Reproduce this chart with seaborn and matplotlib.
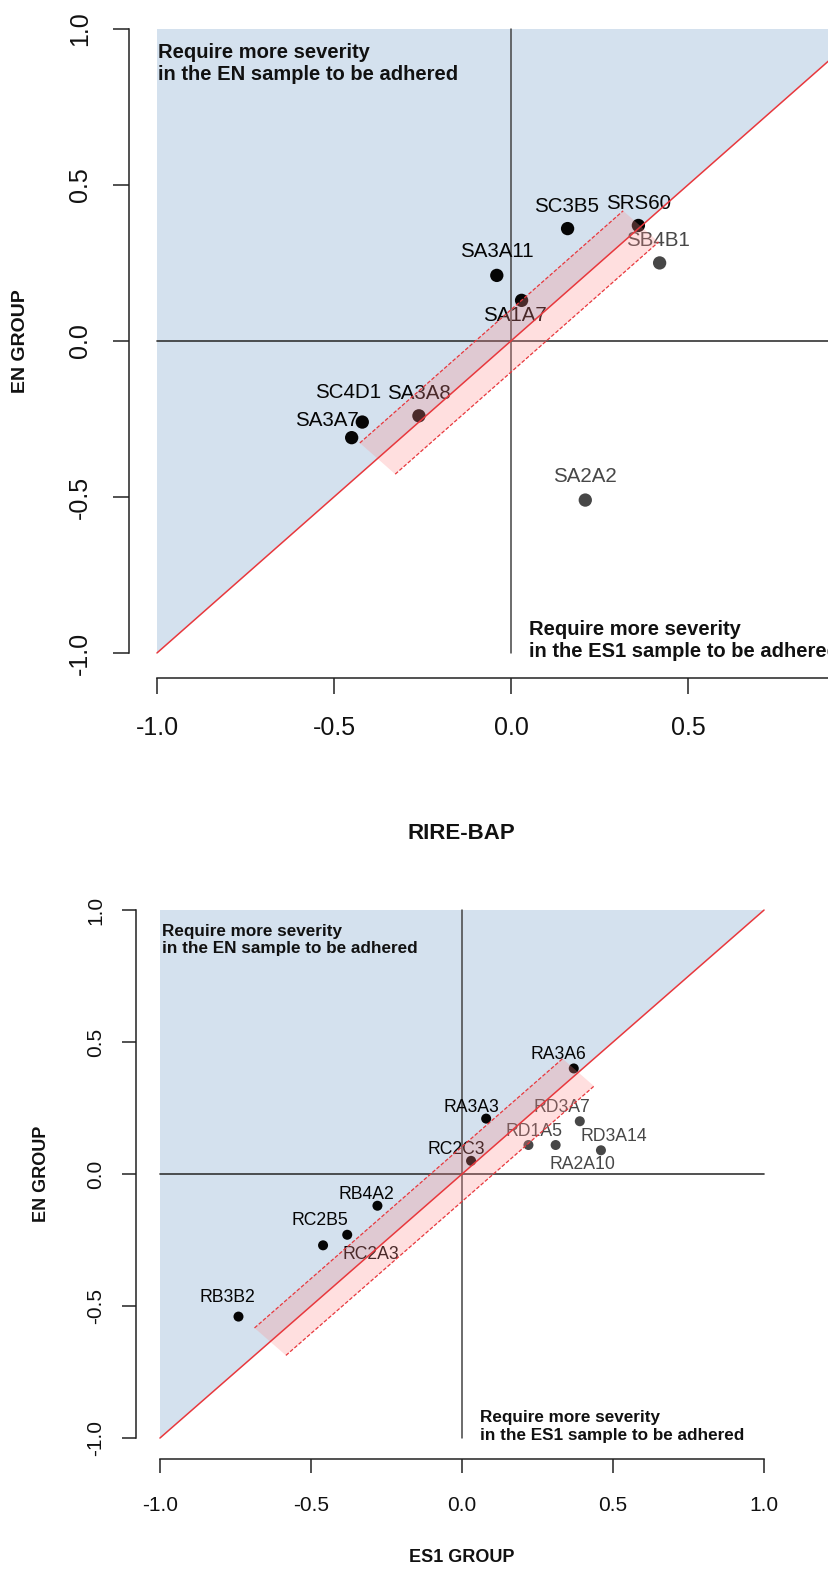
import pandas as pd
import seaborn as sns
import matplotlib.pyplot as plt
from matplotlib.patches import Polygon

# ---- top panel data (RIRE-BAP) ----
top_labels = ['SC3B5', 'SRS60', 'SB4B1', 'SA3A11', 'SA1A7', 'SC4D1', 'SA3A8', 'SA3A7', 'SA2A2']
top_x = [0.16, 0.36, 0.42, -0.04, 0.03, -0.42, -0.26, -0.45, 0.21]
top_y = [0.36, 0.37, 0.25, 0.21, 0.13, -0.26, -0.24, -0.31, -0.51]
top_group = ['dark', 'dark', 'grey', 'dark', 'dark', 'dark', 'dark', 'dark', 'grey']

# ---- bottom panel data (ES1 GROUP) ----
bot_labels = ['RA3A6', 'RA3A3', 'RC2C3', 'RD3A7', 'RD1A5', 'RA2A10', 'RD3A14',
              'RB4A2', 'RC2A3', 'RC2B5', 'RB3B2']
bot_x = [0.37, 0.08, 0.03, 0.39, 0.22, 0.31, 0.46, -0.28, -0.38, -0.46, -0.74]
bot_y = [0.40, 0.21, 0.05, 0.20, 0.11, 0.11, 0.09, -0.12, -0.23, -0.27, -0.54]
bot_group = ['dark', 'dark', 'dark', 'grey', 'grey', 'grey', 'grey',
             'dark', 'dark', 'dark', 'dark']

# agreement band along the diagonal: start/end on the diagonal and half width
top_band = (-0.377, 0.367, 0.05)
bot_band = (-0.635, 0.385, 0.052)

ticks = [-1.0, -0.5, 0.0, 0.5, 1.0]
top_xticks = [-1.0, -0.5, 0.0, 0.5]   # 1.0 falls outside the cropped figure

# label offsets in points (placement only)
top_offsets = [(-1, 16), (0, 16), (-1, 16), (0, 17), (-5, -11), (-10, 21),
               (0, 16), (-18, 12), (0, 17)]
bot_offsets = [(-11, 10), (-11, 8), (-11, 8), (-13, 10), (4, 10), (19, -14),
               (9, 10), (-8, 8), (17, -14), (-2, 18), (-8, 14)]

sns.set_style("white")
plt.rcParams['font.family'] = ['Liberation Sans', 'DejaVu Sans']
plt.rcParams['axes.unicode_minus'] = False

BLUE = '#d4e1ee'
RED = '#e8383d'
INK = '#111111'
palette = {'dark': '#050505', 'grey': '#474747'}


def draw_panel(ax, labels, xs, ys, groups, offsets, band, xticks, s, lab_fs,
               note_fs, tick_fs, xlab, xlab_fs, ylab_fs, note_pos, tick_len,
               xpad, ypad, xlab_xy, ylab_xy):
    df = pd.DataFrame({'x': xs, 'y': ys, 'group': groups, 'label': labels})

    # region where EN requires more severity
    ax.add_patch(Polygon([(-1, -1), (-1, 1), (1, 1)], closed=True,
                         facecolor=BLUE, edgecolor='none', zorder=0))
    ax.plot([-1, 1], [0, 0], color='#333333', lw=1.2, zorder=1)
    ax.plot([0, 0], [-1, 1], color='#444444', lw=1.1, zorder=1)

    sns.scatterplot(data=df, x='x', y='y', hue='group', palette=palette,
                    s=s, edgecolor='none', legend=False, ax=ax, zorder=3)
    for (_, r), off in zip(df.iterrows(), offsets):
        ax.annotate(r['label'], (r['x'], r['y']), xytext=off,
                    textcoords='offset points', ha='center', va='center',
                    fontsize=lab_fs, color=palette[r['group']], zorder=4)

    # translucent band around y = x
    c0, c1, h = band
    ax.add_patch(Polygon([(c0 - h, c0 + h), (c1 - h, c1 + h),
                          (c1 + h, c1 - h), (c0 + h, c0 - h)], closed=True,
                         facecolor=(1, 0.55, 0.55), alpha=0.28,
                         edgecolor='none', zorder=5))
    ax.plot([c0 - h, c1 - h], [c0 + h, c1 + h], color=RED, lw=0.9,
            ls=(0, (3, 1.5)), zorder=6)
    ax.plot([c0 + h, c1 + h], [c0 - h, c1 - h], color=RED, lw=0.9,
            ls=(0, (3, 1.5)), zorder=6)
    ax.plot([-1, 1], [-1, 1], color=RED, lw=1.1, zorder=6)

    (nx1, ny1), (nx2, ny2) = note_pos
    ax.text(nx1, ny1, 'Require more severity\nin the EN sample to be adhered',
            fontsize=note_fs, fontweight='bold', ha='left', va='top',
            linespacing=1.2, color=INK, zorder=7)
    ax.text(nx2, ny2, 'Require more severity\nin the ES1 sample to be adhered',
            fontsize=note_fs, fontweight='bold', ha='left', va='top',
            linespacing=1.2, color=INK, zorder=7)

    ax.set_xlim(-1.08, 1.08)
    ax.set_ylim(-1.08, 1.08)
    ax.set_xticks(xticks)
    ax.set_yticks(ticks)
    ax.set_xticklabels(['%.1f' % t for t in xticks])
    ax.set_yticklabels(['%.1f' % t for t in ticks], rotation=90, va='center')
    for side in ['top', 'right']:
        ax.spines[side].set_visible(False)
    for side in ['left', 'bottom']:
        ax.spines[side].set_bounds(-1, 1)
        ax.spines[side].set_linewidth(1.1)
        ax.spines[side].set_color('#222222')
    ax.tick_params(axis='both', which='major', bottom=True, left=True,
                   direction='out', length=tick_len, width=1.1,
                   color='#222222', labelsize=tick_fs, labelcolor=INK)
    ax.tick_params(axis='x', pad=xpad)
    ax.tick_params(axis='y', pad=ypad)

    ax.set_xlabel(xlab, fontsize=xlab_fs, fontweight='bold', va='center',
                  color=INK)
    ax.set_ylabel('EN GROUP', fontsize=ylab_fs, fontweight='bold',
                  va='center', color=INK)
    ax.xaxis.set_label_coords(*xlab_xy)
    ax.yaxis.set_label_coords(*ylab_xy)


fig = plt.figure(figsize=(8.29, 15.70), dpi=100)
ax1 = fig.add_axes([0.1552, 0.5682, 0.9223, 0.4293])
ax2 = fig.add_axes([0.1638, 0.0706, 0.7870, 0.3632])

draw_panel(ax1, top_labels, top_x, top_y, top_group, top_offsets, top_band,
           top_xticks, s=92, lab_fs=14.8, note_fs=14.5, tick_fs=18,
           xlab='RIRE-BAP', xlab_fs=16, ylab_fs=14,
           note_pos=((-0.997, 0.955), (0.051, -0.895)),
           tick_len=11.5, xpad=16, ypad=15,
           xlab_xy=(0.4346, -0.2315), ylab_xy=(-0.141, 0.5))

draw_panel(ax2, bot_labels, bot_x, bot_y, bot_group, bot_offsets, bot_band,
           ticks, s=52, lab_fs=12.7, note_fs=12.3, tick_fs=15,
           xlab='ES1 GROUP', xlab_fs=13, ylab_fs=13,
           note_pos=((-0.994, 0.947), (0.06, -0.895)),
           tick_len=9.8, xpad=17, ypad=12,
           xlab_xy=(0.5, -0.1717), ylab_xy=(-0.1438, 0.5))

fig.savefig('out.png', dpi=100)
